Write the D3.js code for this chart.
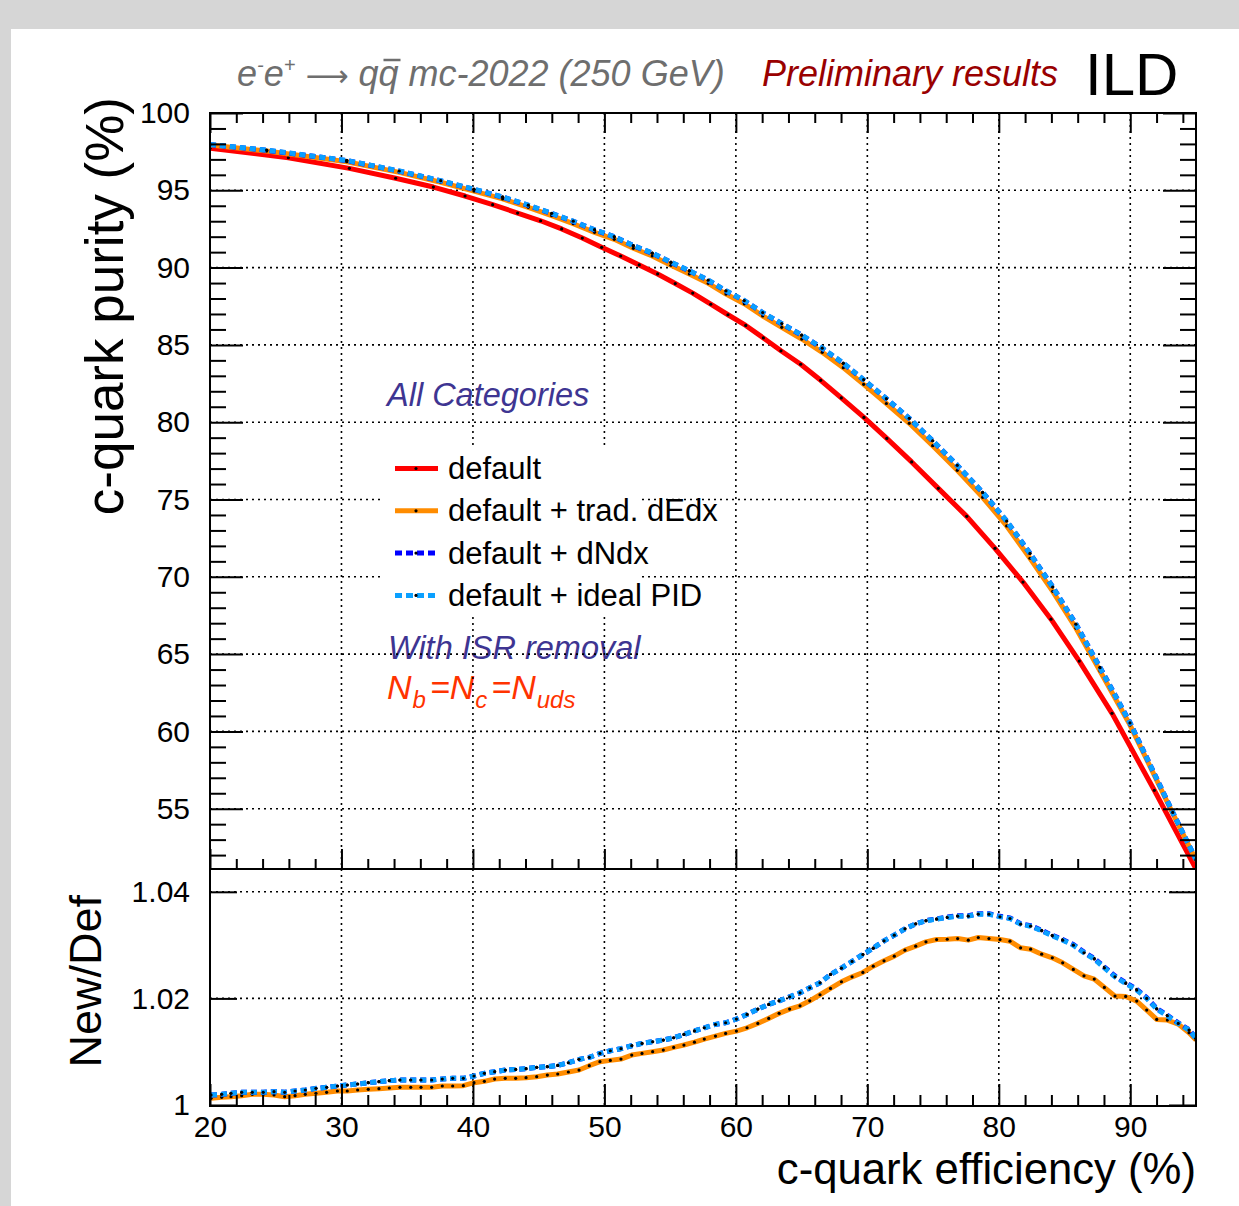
<!DOCTYPE html>
<html>
<head>
<meta charset="utf-8">
<script src="https://cdn.jsdelivr.net/npm/d3@7"></script>
<style>
  html, body { margin: 0; padding: 0; background: #d6d6d6; }
  svg { display: block; }
  text { font-family: "Liberation Sans", Arial, Helvetica, sans-serif; }
</style>
</head>
<body>
<svg id="chart" width="1239" height="1206"></svg>
<script>
// ---------- purity vs efficiency (upper panel) ----------
const effDefault = [20.0, 25.96, 30.60, 34.12, 36.99, 39.40, 41.50, 43.40, 45.15, 46.75, 48.32,
  49.79, 51.24, 52.65, 54.05, 55.39, 56.72, 58.09, 59.40, 60.75, 62.09, 63.43, 64.93, 66.45,
  68.02, 69.74, 71.48, 73.37, 75.40, 77.56, 79.71, 81.84, 83.97, 86.12, 88.61, 91.83, 95.0];
const purityDefault = [97.72, 97.11, 96.42, 95.78, 95.21, 94.63, 94.07, 93.53, 93.03, 92.50, 91.91,
  91.31, 90.75, 90.17, 89.59, 88.97, 88.35, 87.63, 86.95, 86.26, 85.45, 84.62, 83.75, 82.71,
  81.57, 80.31, 78.95, 77.43, 75.72, 73.91, 71.84, 69.66, 67.26, 64.55, 61.17, 56.19, 51.1];

const effNew = [20.0, 24.31, 30.40, 34.40, 37.55, 40.08, 42.26, 44.21, 45.99, 47.63, 49.25,
  50.75, 52.20, 53.64, 55.06, 56.46, 57.90, 59.25, 60.64, 62.04, 63.49, 65.01, 66.57, 68.17,
  69.72, 71.45, 73.19, 74.97, 76.84, 78.77, 80.60, 82.37, 84.10, 85.87, 87.70, 89.98, 93.23, 95.0];
const purityDEdx = [97.93, 97.54, 96.85, 96.16, 95.52, 94.95, 94.44, 93.90, 93.36, 92.84, 92.28,
  91.83, 91.25, 90.75, 90.15, 89.59, 88.98, 88.29, 87.66, 86.87, 86.14, 85.38, 84.52, 83.53,
  82.45, 81.21, 79.93, 78.48, 76.89, 75.14, 73.29, 71.20, 69.06, 66.67, 63.91, 60.41, 54.70, 51.68];
const purityDNdx = [97.96, 97.59, 96.92, 96.24, 95.61, 95.06, 94.56, 94.03, 93.50, 92.99, 92.44,
  91.99, 91.42, 90.93, 90.34, 89.79, 89.18, 88.49, 87.86, 87.08, 86.37, 85.63, 84.78, 83.81,
  82.74, 81.52, 80.25, 78.80, 77.21, 75.46, 73.61, 71.52, 69.35, 66.94, 64.14, 60.57, 54.77, 51.72];
const purityIdeal = [97.97, 97.60, 96.93, 96.25, 95.62, 95.07, 94.57, 94.04, 93.51, 93.00, 92.45,
  92.00, 91.43, 90.94, 90.35, 89.80, 89.19, 88.50, 87.87, 87.09, 86.38, 85.64, 84.79, 83.82,
  82.75, 81.52, 80.25, 78.80, 77.21, 75.46, 73.61, 71.51, 69.34, 66.93, 64.12, 60.55, 54.76, 51.72];

// ---------- ratio to default (lower panel) ----------
const ratioEff = [20.08, 20.89, 21.60, 22.41, 23.22, 24.05, 24.87, 25.68, 26.47, 27.25, 28.06,
  28.87, 29.69, 30.44, 31.23, 32.04, 32.85, 33.64, 34.45, 35.27, 36.05, 36.86, 37.67, 38.46,
  39.27, 40.08, 40.87, 41.65, 42.46, 43.25, 44.04, 44.85, 45.66, 46.45, 47.26, 48.07, 48.85,
  49.66, 50.45, 51.26, 52.08, 52.86, 53.67, 54.48, 55.27, 56.05, 56.85, 57.60, 58.45, 59.22,
  60.04, 60.85, 61.67, 62.50, 63.29, 64.09, 64.88, 65.62, 66.40, 67.20, 68.03, 68.84, 69.66,
  70.45, 71.27, 72.05, 72.86, 73.68, 74.46, 75.27, 76.08, 76.87, 77.68, 78.44, 79.25, 80.09,
  80.85, 81.66, 82.42, 83.26, 84.07, 84.86, 85.67, 86.48, 87.26, 88.03, 88.84, 89.65, 90.49,
  91.25, 92.01, 92.82, 93.65, 94.47, 95.0];
const ratioDEdx = [1.00125, 1.00144, 1.00156, 1.00174, 1.00200, 1.00200, 1.00187, 1.00156, 1.00174,
  1.00200, 1.00219, 1.00238, 1.00262, 1.00262, 1.00281, 1.00294, 1.00306, 1.00319, 1.00332,
  1.00332, 1.00332, 1.00332, 1.00356, 1.00356, 1.00362, 1.00418, 1.00444, 1.00487, 1.00500,
  1.00500, 1.00512, 1.00531, 1.00562, 1.00581, 1.00619, 1.00656, 1.00737, 1.00812, 1.00837,
  1.00862, 1.00937, 1.00968, 1.01000, 1.01031, 1.01081, 1.01125, 1.01178, 1.01237, 1.01293,
  1.01343, 1.01387, 1.01449, 1.01531, 1.01625, 1.01719, 1.01799, 1.01861, 1.01955, 1.02068,
  1.02187, 1.02312, 1.02405, 1.02487, 1.02605, 1.02705, 1.02793, 1.02905, 1.02980, 1.03061,
  1.03104, 1.03110, 1.03123, 1.03093, 1.03143, 1.03123, 1.03104, 1.03074, 1.02949, 1.02924,
  1.02830, 1.02762, 1.02667, 1.02543, 1.02424, 1.02362, 1.02206, 1.02043, 1.02037, 1.01949,
  1.01781, 1.01606, 1.01593, 1.01518, 1.01355, 1.01218];
const ratioDNdx = [1.00187, 1.00200, 1.00219, 1.00238, 1.00238, 1.00238, 1.00250, 1.00238, 1.00262,
  1.00281, 1.00312, 1.00332, 1.00356, 1.00375, 1.00394, 1.00418, 1.00437, 1.00456, 1.00469,
  1.00469, 1.00469, 1.00469, 1.00487, 1.00500, 1.00500, 1.00544, 1.00594, 1.00625, 1.00656,
  1.00668, 1.00681, 1.00706, 1.00718, 1.00743, 1.00793, 1.00856, 1.00893, 1.00968, 1.01018,
  1.01056, 1.01112, 1.01156, 1.01187, 1.01218, 1.01262, 1.01324, 1.01390, 1.01449, 1.01512,
  1.01543, 1.01612, 1.01699, 1.01799, 1.01886, 1.01955, 1.02030, 1.02105, 1.02199, 1.02293,
  1.02449, 1.02568, 1.02693, 1.02824, 1.02943, 1.03080, 1.03187, 1.03305, 1.03399, 1.03460,
  1.03492, 1.03525, 1.03550, 1.03552, 1.03590, 1.03588, 1.03540, 1.03510, 1.03400, 1.03365,
  1.03278, 1.03184, 1.03103, 1.03010, 1.02868, 1.02750, 1.02588, 1.02420, 1.02296, 1.02170,
  1.02012, 1.01810, 1.01684, 1.01540, 1.01412, 1.01254];
const ratioIdeal = [1.00187, 1.00200, 1.00219, 1.00238, 1.00238, 1.00238, 1.00250, 1.00238, 1.00262,
  1.00281, 1.00312, 1.00332, 1.00356, 1.00375, 1.00394, 1.00418, 1.00437, 1.00456, 1.00469,
  1.00469, 1.00469, 1.00469, 1.00487, 1.00500, 1.00500, 1.00544, 1.00594, 1.00625, 1.00656,
  1.00668, 1.00681, 1.00706, 1.00718, 1.00743, 1.00793, 1.00856, 1.00893, 1.00968, 1.01018,
  1.01056, 1.01112, 1.01156, 1.01187, 1.01218, 1.01262, 1.01324, 1.01390, 1.01449, 1.01512,
  1.01543, 1.01612, 1.01699, 1.01799, 1.01886, 1.01955, 1.02030, 1.02105, 1.02199, 1.02293,
  1.02449, 1.02568, 1.02693, 1.02824, 1.02943, 1.03080, 1.03187, 1.03305, 1.03399, 1.03455,
  1.03486, 1.03518, 1.03543, 1.03543, 1.03580, 1.03580, 1.03530, 1.03499, 1.03393, 1.03355,
  1.03268, 1.03174, 1.03093, 1.02999, 1.02855, 1.02737, 1.02574, 1.02405, 1.02281, 1.02156,
  1.02000, 1.01799, 1.01674, 1.01531, 1.01406, 1.01250];

// ---------- ticks and labels ----------
const xMajorTicks = [20, 30, 40, 50, 60, 70, 80, 90];
const xMinorTicks = [22, 24, 26, 28, 32, 34, 36, 38, 42, 44, 46, 48, 52, 54, 56, 58, 62, 64, 66, 68,
  72, 74, 76, 78, 82, 84, 86, 88, 92, 94];
const xGridTicks = [30, 40, 50, 60, 70, 80, 90];
const purityMajorTicks = [55, 60, 65, 70, 75, 80, 85, 90, 95, 100];
const purityMinorTicks = [52, 53, 54, 56, 57, 58, 59, 61, 62, 63, 64, 66, 67, 68, 69, 71, 72, 73, 74,
  76, 77, 78, 79, 81, 82, 83, 84, 86, 87, 88, 89, 91, 92, 93, 94, 96, 97, 98, 99];
const ratioMajorTicks = [1, 1.02, 1.04];
const ratioTickLabels = ["1", "1.02", "1.04"];
const ratioGridTicks = [1.02, 1.04];

const seriesNames = ["default", "default + trad. dEdx", "default + dNdx", "default + ideal PID"];
const seriesColors = ["#ff0000", "#ff8c00", "#0000ff", "#0aa0ff"];
const seriesDashes = [null, null, "6,4", "6,4"];

const xTitle = "c-quark efficiency (%)";
const yTitleUpper = "c-quark purity (%)";
const yTitleLower = "New/Def";

// ---------- layout ----------
const svg = d3.select("#chart");
const left = 210, right = 1196;
const upTop = 113, split = 869, lowBottom = 1106;

const x = d3.scaleLinear().domain([20, 95]).range([left, right]);
const yUp = d3.scaleLinear().domain([51.1, 100]).range([split, upTop]);
const yLow = d3.scaleLinear().domain([0.99981, 1.04428]).range([lowBottom, split]);

// canvas
svg.append("rect").attr("x", 11).attr("y", 29).attr("width", 1239 - 11).attr("height", 1206 - 29)
  .attr("fill", "#ffffff");

const defs = svg.append("defs");
defs.append("clipPath").attr("id", "clipUp").append("rect")
  .attr("x", left).attr("y", upTop).attr("width", right - left).attr("height", split - upTop);
defs.append("clipPath").attr("id", "clipLow").append("rect")
  .attr("x", left).attr("y", split).attr("width", right - left).attr("height", lowBottom - split);

// ---------- free text inside the upper pad (under the grid) ----------
const purple = "#3e3592";
svg.append("text").attr("x", 387).attr("y", 406).attr("font-size", 32.5).attr("font-style", "italic")
  .attr("fill", purple).text("All Categories");
svg.append("text").attr("x", 388).attr("y", 659).attr("font-size", 32.5).attr("font-style", "italic")
  .attr("fill", purple).text("With ISR removal");
const nText = svg.append("text").attr("x", 387).attr("y", 699).attr("font-size", 34)
  .attr("font-style", "italic").attr("fill", "#ff3300");
[["N", null], ["b", "sub"], ["=N", null], ["c", "sub"], ["=N", null], ["uds", "sub"]].forEach(([t, k], i, arr) => {
  const ts = nText.append("tspan").text(t);
  if (k === "sub") ts.attr("font-size", 24).attr("dy", 9).attr("dx", 1);
  else if (i > 0 && arr[i - 1][1] === "sub") ts.attr("dy", -9).attr("dx", 4);
});

// ---------- grid ----------
const grid = svg.append("g").attr("stroke", "#000").attr("stroke-width", 1.6)
  .attr("stroke-dasharray", "2,4");
xGridTicks.forEach(v => {
  grid.append("line").attr("x1", x(v)).attr("x2", x(v)).attr("y1", upTop).attr("y2", split);
  grid.append("line").attr("x1", x(v)).attr("x2", x(v)).attr("y1", split).attr("y2", lowBottom);
});
purityMajorTicks.filter(v => v < 100).forEach(v => {
  grid.append("line").attr("x1", left).attr("x2", right).attr("y1", yUp(v)).attr("y2", yUp(v));
});
ratioGridTicks.forEach(v => {
  grid.append("line").attr("x1", left).attr("x2", right).attr("y1", yLow(v)).attr("y2", yLow(v));
});

// ---------- legend (white box hides the grid) ----------
svg.append("rect").attr("x", 384).attr("y", 445).attr("width", 257).attr("height", 172).attr("fill", "#fff");
const legend = svg.append("g");
seriesNames.forEach((name, i) => {
  const yy = 468.5 + i * 42.3;
  legend.append("line").attr("x1", 395).attr("x2", 438).attr("y1", yy).attr("y2", yy)
    .attr("stroke", seriesColors[i]).attr("stroke-width", 5)
    .attr("stroke-dasharray", seriesDashes[i] ? "7,4" : null);
  legend.append("circle").attr("cx", 416).attr("cy", yy).attr("r", 1.6).attr("fill", "#000");
  legend.append("text").attr("x", 448).attr("y", yy + 10.5).attr("font-size", 31).attr("fill", "#000").text(name);
});

// ---------- curves ----------
function drawSeries(g, xs, ys, yScale, i) {
  const pts = xs.map((e, k) => [e, ys[k]]);
  g.append("path").datum(pts)
    .attr("fill", "none").attr("stroke", seriesColors[i]).attr("stroke-width", 5)
    .attr("stroke-linejoin", "round")
    .attr("stroke-dasharray", seriesDashes[i])
    .attr("d", d3.line().x(d => x(d[0])).y(d => yScale(d[1])));
  g.selectAll(null).data(pts).enter().append("circle")
    .attr("cx", d => x(d[0])).attr("cy", d => yScale(d[1])).attr("r", 1.6).attr("fill", "#000");
}
const gUp = svg.append("g").attr("clip-path", "url(#clipUp)");
drawSeries(gUp, effDefault, purityDefault, yUp, 0);
drawSeries(gUp, effNew, purityDEdx, yUp, 1);
drawSeries(gUp, effNew, purityDNdx, yUp, 2);
drawSeries(gUp, effNew, purityIdeal, yUp, 3);

const gLow = svg.append("g").attr("clip-path", "url(#clipLow)");
drawSeries(gLow, ratioEff, ratioDEdx, yLow, 1);
drawSeries(gLow, ratioEff, ratioDNdx, yLow, 2);
drawSeries(gLow, ratioEff, ratioIdeal, yLow, 3);

// ---------- axes ----------
function styleAxis(g, fontSize) {
  g.select(".domain").remove();
  g.selectAll(".tick line").attr("stroke", "#000").attr("stroke-width", 2);
  g.selectAll(".tick text").attr("fill", "#000").attr("font-size", fontSize)
    .attr("font-family", "'Liberation Sans', Arial, Helvetica, sans-serif");
}
function addAxis(gen, tx, ty, fontSize) {
  const g = svg.append("g").attr("transform", `translate(${tx},${ty})`).call(gen);
  styleAxis(g, fontSize || 30);
  return g;
}
// upper pad
addAxis(d3.axisLeft(yUp).tickValues(purityMajorTicks).tickSize(-33).tickPadding(20).tickFormat(d3.format("d")), left, 0);
addAxis(d3.axisLeft(yUp).tickValues(purityMinorTicks).tickSize(-16).tickFormat(""), left, 0);
addAxis(d3.axisRight(yUp).tickValues(purityMajorTicks).tickSize(-33).tickFormat(""), right, 0);
addAxis(d3.axisRight(yUp).tickValues(purityMinorTicks).tickSize(-16).tickFormat(""), right, 0);
addAxis(d3.axisTop(x).tickValues(xMajorTicks).tickSize(-20).tickFormat(""), 0, upTop);
addAxis(d3.axisTop(x).tickValues(xMinorTicks).tickSize(-10).tickFormat(""), 0, upTop);
addAxis(d3.axisBottom(x).tickValues(xMajorTicks).tickSize(-20).tickFormat(""), 0, split);
addAxis(d3.axisBottom(x).tickValues(xMinorTicks).tickSize(-10).tickFormat(""), 0, split);
// lower pad
addAxis(d3.axisLeft(yLow).tickValues(ratioMajorTicks).tickSize(-27).tickPadding(20)
  .tickFormat((d, i) => ratioTickLabels[i]), left, 0);
addAxis(d3.axisRight(yLow).tickValues(ratioMajorTicks).tickSize(-27).tickFormat(""), right, 0);
addAxis(d3.axisBottom(x).tickValues(xMajorTicks).tickSize(-22).tickPadding(10).tickFormat(d3.format("d")), 0, lowBottom);
addAxis(d3.axisBottom(x).tickValues(xMinorTicks).tickSize(-11).tickFormat(""), 0, lowBottom);

// frames
svg.append("rect").attr("x", left).attr("y", upTop).attr("width", right - left).attr("height", split - upTop)
  .attr("fill", "none").attr("stroke", "#000").attr("stroke-width", 2);
svg.append("rect").attr("x", left).attr("y", split).attr("width", right - left).attr("height", lowBottom - split)
  .attr("fill", "none").attr("stroke", "#000").attr("stroke-width", 2);

// ---------- axis titles ----------
svg.append("text").attr("x", right).attr("y", 1184).attr("text-anchor", "end")
  .attr("font-size", 43.7).attr("fill", "#000").text(xTitle);
svg.append("text").attr("transform", "translate(123,97) rotate(-90)").attr("text-anchor", "end")
  .attr("font-size", 53).attr("fill", "#000").text(yTitleUpper);
svg.append("text").attr("transform", "translate(101,895) rotate(-90)").attr("text-anchor", "end")
  .attr("font-size", 45).attr("fill", "#000").text(yTitleLower);

// ---------- header ----------
const gray = "#6e6e6e";
const title = svg.append("text").attr("x", 237).attr("y", 86).attr("font-size", 36)
  .attr("font-style", "italic").attr("fill", gray);
title.append("tspan").text("e");
title.append("tspan").attr("font-size", 20).attr("dy", -14).text("-");
title.append("tspan").attr("dy", 14).text("e");
title.append("tspan").attr("font-size", 20).attr("dy", -14).text("+");
title.append("tspan").attr("dy", 14).text(" ");
title.append("tspan").attr("font-style", "normal").attr("font-family", "'DejaVu Sans', sans-serif")
  .attr("font-size", 30).text("\u27F6");
title.append("tspan").text(" q");
title.append("tspan").text("q");
title.append("tspan").text(" mc-2022 (250 GeV)");
// bar over the anti-quark (character index 8 in the whole string)
const qBox = title.node().getExtentOfChar(8);
svg.append("line").attr("x1", qBox.x + 5).attr("x2", qBox.x + qBox.width + 2)
  .attr("y1", 60).attr("y2", 60).attr("stroke", gray).attr("stroke-width", 2.5);

svg.append("text").attr("x", 762).attr("y", 86).attr("font-size", 36).attr("font-style", "italic")
  .attr("fill", "#990000").text("Preliminary results");
svg.append("text").attr("x", 1085).attr("y", 95).attr("font-size", 60).attr("fill", "#000").text("ILD");
</script>
</body>
</html>
